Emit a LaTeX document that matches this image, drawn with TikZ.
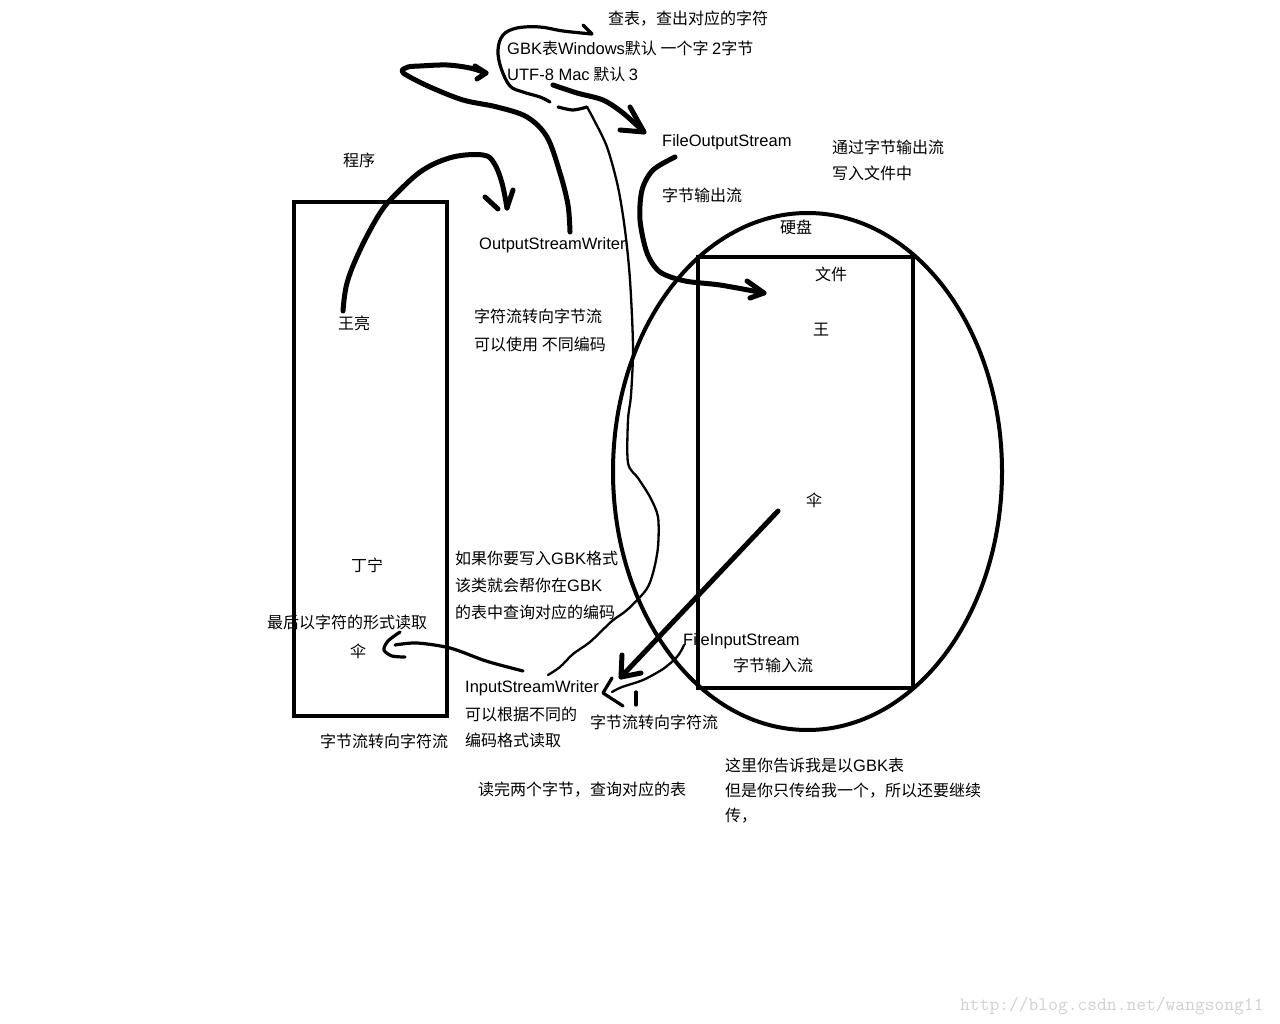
\documentclass[tikz,border=0pt]{standalone}
\usepackage{fontspec}
\setmainfont{Noto Sans CJK SC}
\newfontfamily\latfont{Liberation Sans}
\newcommand\lattext[1]{{\latfont\fontsize{16.5}{19}\selectfont #1}}
\usetikzlibrary{shapes.geometric}
\begin{document}
\begin{tikzpicture}[x=1pt,y=-1pt,
  lbl/.style={anchor=base west,inner sep=0pt,font=\fontsize{16}{19}\selectfont},
  heavy/.style={line width=5pt,line cap=round,line join=round},
  medium/.style={line width=3.2pt,line cap=round,line join=round},
  fine/.style={line width=2.3pt,line cap=round,line join=round},
  frame/.style={draw,line width=4pt,inner sep=0pt}]
\useasboundingbox[fill=white] (0,0) rectangle (1280,1024);

% texts
\node[lbl] (n01) at (608,24.5) {查表，查出对应的字符};
\node[lbl] (n02) at (507,55) {\lattext{GBK}表\lattext{Windows}默认 一个字 \lattext{2}字节};
\node[lbl] (n03) at (507,81) {\lattext{UTF-8 Mac} 默认 \lattext{3}};
\node[lbl] (n04) at (662,147) {\lattext{FileOutputStream}};
\node[lbl] (n05) at (832,154) {通过字节输出流};
\node[lbl] (n06) at (832,180) {写入文件中};
\node[lbl] (n07) at (662,202) {字节输出流};
\node[lbl] (n08) at (343,167) {程序};
\node[lbl] (n09) at (780,234) {硬盘};
\node[lbl] (n10) at (479,250) {\lattext{OutputStreamWriter}};
\node[lbl] (n11) at (815,281) {文件};
\node[lbl] (n12) at (338,330) {王亮};
\node[lbl] (n13) at (474,323) {字符流转向字节流};
\node[lbl] (n14) at (474,350) {可以使用 不同编码};
\node[lbl] (n15) at (813,335) {王};
\node[lbl] (n16) at (806,506) {伞};
\node[lbl] (n17) at (351,571) {丁宁};
\node[lbl] (n18) at (455,564) {如果你要写入\lattext{GBK}格式};
\node[lbl] (n19) at (455,591) {该类就会帮你在\lattext{GBK}};
\node[lbl] (n20) at (455,618) {的表中查询对应的编码};
\node[lbl] (n21) at (267,628) {最后以字符的形式读取};
\node[lbl] (n22) at (350,657) {伞};
\node[lbl] (n23) at (683,645) {\lattext{FileInputStream}};
\node[lbl] (n24) at (733,671) {字节输入流};
\node[lbl] (n25) at (465,692) {\lattext{InputStreamWriter}};
\node[lbl] (n26) at (465,720) {可以根据不同的};
\node[lbl] (n27) at (465,746) {编码格式读取};
\node[lbl] (n28) at (590,728) {字节流转向字符流};
\node[lbl] (n29) at (320,747) {字节流转向字符流};
\node[lbl] (n30) at (478,795) {读完两个字节，查询对应的表};
\node[lbl] (n31) at (725,771) {这里你告诉我是以\lattext{GBK}表};
\node[lbl] (n32) at (725,796) {但是你只传给我一个，所以还要继续};
\node[lbl] (n33) at (725,821) {传，};
\node[anchor=base west,inner sep=0pt,text=black!18,font=\ttfamily\fontsize{19}{22}\selectfont] (wm) at (960,1010) {http://blog.csdn.net/wangsong11};

% shapes
\node[frame,minimum width=153pt,minimum height=514pt] (prog) at (370.5,459) {};
\node[frame,ellipse,minimum width=389pt,minimum height=517pt] (disk) at (807.5,471.5) {};
\node[frame,minimum width=215pt,minimum height=431pt] (file) at (805.5,472.5) {};

% curve A: 王亮 -> OutputStreamWriter
\coordinate (aS) at (343,311);
\coordinate (aE) at (507,208);
\draw[heavy] plot[smooth,tension=0.6] coordinates {(aS) (347,283) (360,250) (380,213) (397,193) (423,170) (453,157) (483,155) (494,163) (502,183) (aE)};
\draw[heavy] (485,197) -- (498,209) (513,190) -- (aE);

% curve B: loop to GBK/UTF-8
\coordinate (bS) at (570,232);
\coordinate (bE) at (486,73);
\draw[heavy] plot[smooth,tension=0.55] coordinates {(bS) (568,205) (560,173) (547,137) (527,117) (497,107) (463,100) (430,87) (408,76) (402,71) (408,67) (420,66) (447,65) (470,68) (bE)};
\draw[heavy] (475,66) -- (bE) -- (477,79);

% curve C: bracket to 查表
\coordinate (cS) at (550,102);
\coordinate (cE) at (592,34);
\draw[medium] plot[smooth,tension=0.6] coordinates {(cS) (540,97) (523,92) (510,86) (501,68) (498,50) (503,35) (517,28) (540,27) (563,31) (cE)};
\draw[medium] (583,25) -- (cE);

% curve D: long thin line
\coordinate (dS) at (558,107);
\coordinate (dK) at (587,107);
\coordinate (dE) at (548,675);
\draw[medium] plot[smooth] coordinates {(dS) (573,110) (dK)};
\draw[fine] plot[smooth,tension=0.5] coordinates {(dK) (593,118) (607,147) (618,187) (625,230) (630,280) (633,347) (631,395) (628,420) (628,463) (638,478) (650,497) (658,517) (658,547) (653,573) (646,590) (627,610) (612,621) (590,642) (573,654) (560,667) (dE)};

% curve E: UTF-8 -> FileOutputStream
\coordinate (eS) at (553,85);
\coordinate (eE) at (644,132);
\draw[heavy] plot[smooth] coordinates {(eS) (577,93) (603,100) (623,113) (eE)};
\draw[heavy] (630,107) -- (eE) -- (620,130);

% curve F: FileOutputStream -> file
\coordinate (fS) at (675,157);
\coordinate (fE) at (764,293);
\draw[heavy] plot[smooth] coordinates {(fS) (653,170) (642,190) (640,220) (647,253) (660,272) (685,281) (720,285) (fE)};
\draw[heavy] (747,281) -- (fE) -- (750,298);

% G: straight arrow from 伞
\coordinate (gS) at (778,511);
\coordinate (gE) at (621,677);
\draw[heavy] (gS) -- (gE);
\draw[heavy] (622,655) -- (gE) -- (641,673);

% H: FileInputStream -> InputStreamWriter
\coordinate (hS) at (684,645);
\coordinate (hE) at (612,692);
\draw[fine] plot[smooth] coordinates {(hS) (681,651) (676,658) (663,669) (643,680) (622,687) (hE)};
\draw[medium] (612,678) -- (603,693) -- (623,706);
\draw[medium] (636,692) -- (636,705);

% I: InputStreamWriter -> 伞
\coordinate (iS) at (523,671);
\coordinate (iE) at (395,645);
\draw[medium] plot[smooth] coordinates {(iS) (500,665) (483,660) (450,648) (417,643) (iE)};
\draw[medium] plot[smooth] coordinates {(400,632) (388,641) (384,650) (392,656) (405,657)};
\end{tikzpicture}
\end{document}
